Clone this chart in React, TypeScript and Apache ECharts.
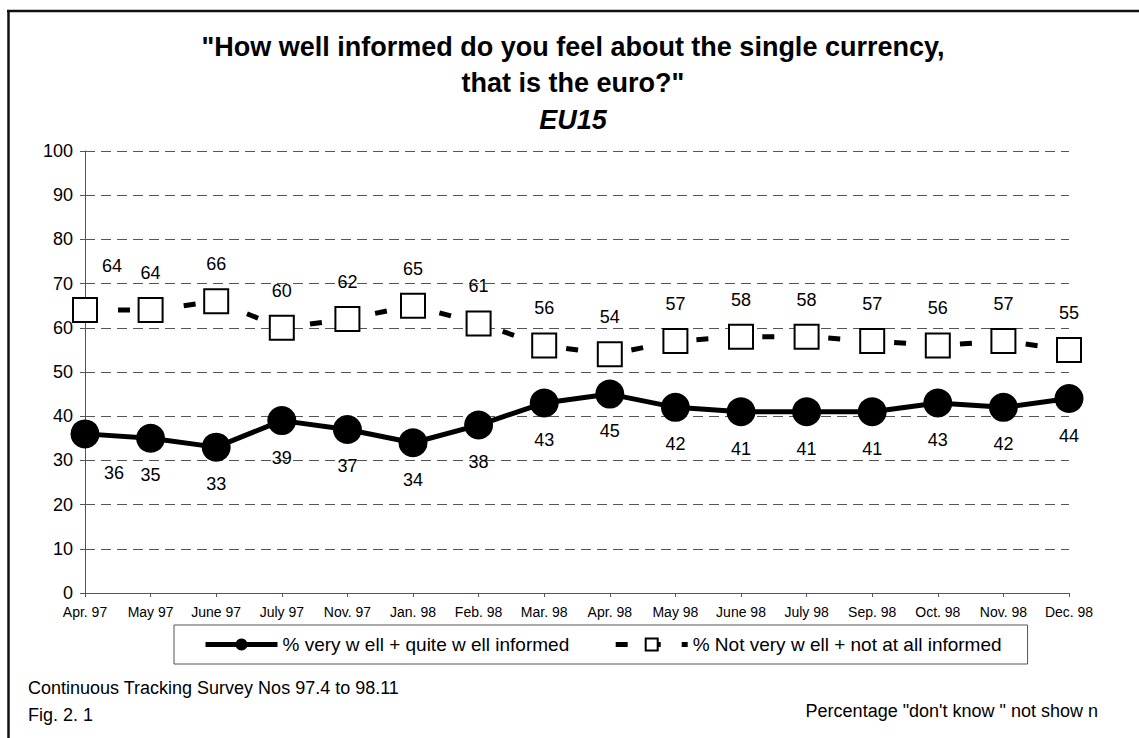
import React, { useEffect, useRef } from "react";
import * as echarts from "echarts";

const categories = [
  "Apr. 97", "May 97", "June 97", "July 97", "Nov. 97", "Jan. 98", "Feb. 98", "Mar. 98",
  "Apr. 98", "May 98", "June 98", "July 98", "Sep. 98", "Oct. 98", "Nov. 98", "Dec. 98",
];
const wellInformed = [36, 35, 33, 39, 37, 34, 38, 43, 45, 42, 41, 41, 41, 43, 42, 44];
const notInformed = [64, 64, 66, 60, 62, 65, 61, 56, 54, 57, 58, 58, 57, 56, 57, 55];
const seriesNames = [
  "% very w ell + quite w ell informed",
  "% Not very w ell + not at all informed",
];
const titleLines = [
  '"How well informed do you feel about the single currency,',
  'that is the euro?"',
  "EU15",
];
const footerLeft = ["Continuous Tracking Survey Nos 97.4 to 98.11", "Fig. 2. 1"];
const footerRight = 'Percentage "don\'t know " not show n';
const yMin = 0;
const yMax = 100;
const yInterval = 10;

const FONT = "'Liberation Sans', Arial, Helvetica, sans-serif";

export default function App() {
  const ref = useRef<HTMLDivElement>(null);

  useEffect(() => {
    if (!ref.current) return;
    const chart = echarts.init(ref.current, undefined, { renderer: "svg" });

    const d1 = wellInformed.map((v, i) =>
      i === 0 ? { value: v, label: { offset: [29, 39] } } : v
    );
    const d2 = notInformed.map((v, i) =>
      i === 0 ? { value: v, label: { offset: [27, -44] } } : v
    );

    const option: any = {
      animation: false,
      backgroundColor: "#fff",
      grid: { left: 85, right: 70, top: 151, bottom: 145, containLabel: false },
      xAxis: {
        type: "category",
        data: categories,
        boundaryGap: false,
        axisLine: { show: true, lineStyle: { color: "#555", width: 1 } },
        axisTick: { show: true, length: 4, lineStyle: { color: "#555" } },
        axisLabel: {
          color: "#000",
          fontSize: 14,
          fontFamily: FONT,
          margin: 12,
          interval: 0,
        },
        splitLine: { show: false },
      },
      yAxis: {
        type: "value",
        min: yMin,
        max: yMax,
        interval: yInterval,
        axisLine: { show: true, lineStyle: { color: "#555", width: 1 } },
        axisTick: { show: true, length: 5, lineStyle: { color: "#555" } },
        axisLabel: { color: "#000", fontSize: 18, fontFamily: FONT, margin: 12 },
        splitLine: {
          show: true,
          lineStyle: { color: "#555", width: 1, type: [10, 6] },
        },
      },
      legend: {
        left: 174,
        top: 625,
        orient: "horizontal",
        padding: [10, 26, 10, 29],
        itemGap: 44,
        itemWidth: 72,
        itemHeight: 15,
        borderColor: "#555",
        borderWidth: 1,
        backgroundColor: "#fff",
        lineStyle: { width: 5 },
        textStyle: { color: "#000", fontSize: 19, fontFamily: FONT, lineHeight: 19 },
        data: seriesNames,
      },
      series: [
        {
          name: seriesNames[0],
          type: "line",
          data: d1,
          symbol: "circle",
          symbolSize: 29,
          showAllSymbol: true,
          itemStyle: { color: "#000" },
          lineStyle: { color: "#000", width: 5 },
          label: {
            show: true,
            position: "inside",
            offset: [0, 37],
            color: "#000",
            fontSize: 18,
            fontFamily: FONT,
          },
          z: 3,
        },
        {
          name: seriesNames[1],
          type: "line",
          data: d2,
          symbol: "rect",
          symbolSize: 24,
          showAllSymbol: true,
          itemStyle: { color: "#fff", borderColor: "#000", borderWidth: 2 },
          lineStyle: { color: "#000", width: 5, type: [12, 21], cap: "butt" },
          label: {
            show: true,
            position: "inside",
            offset: [0, -37],
            color: "#000",
            fontSize: 18,
            fontFamily: FONT,
          },
          z: 4,
        },
      ],
      graphic: [
        {
          type: "line",
          shape: { x1: 7, y1: 11, x2: 1139, y2: 11 },
          style: { stroke: "#111", lineWidth: 2.5 },
          silent: true,
          z: 100,
        },
        {
          type: "line",
          shape: { x1: 8.5, y1: 10, x2: 8.5, y2: 738 },
          style: { stroke: "#111", lineWidth: 2.5 },
          silent: true,
          z: 100,
        },
        {
          type: "text",
          x: 573,
          y: 47,
          style: {
            text: titleLines[0],
            align: "center",
            verticalAlign: "middle",
            fill: "#000",
            font: `bold 27px ${FONT}`,
          },
        },
        {
          type: "text",
          x: 573,
          y: 83,
          style: {
            text: titleLines[1],
            align: "center",
            verticalAlign: "middle",
            fill: "#000",
            font: `bold 27px ${FONT}`,
          },
        },
        {
          type: "text",
          x: 573,
          y: 120,
          style: {
            text: titleLines[2],
            align: "center",
            verticalAlign: "middle",
            fill: "#000",
            font: `italic bold 27px ${FONT}`,
          },
        },
        {
          type: "text",
          x: 28,
          y: 688,
          style: {
            text: footerLeft[0],
            align: "left",
            verticalAlign: "middle",
            fill: "#000",
            font: `18px ${FONT}`,
          },
        },
        {
          type: "text",
          x: 28,
          y: 715,
          style: {
            text: footerLeft[1],
            align: "left",
            verticalAlign: "middle",
            fill: "#000",
            font: `18px ${FONT}`,
          },
        },
        {
          type: "text",
          x: 1098,
          y: 711,
          style: {
            text: footerRight,
            align: "right",
            verticalAlign: "middle",
            fill: "#000",
            font: `18px ${FONT}`,
          },
        },
      ],
    };

    chart.setOption(option);
    return () => chart.dispose();
  }, []);

  return (
    <div
      ref={ref}
      style={{ position: "fixed", left: 0, top: 0, width: 1139, height: 738 }}
    />
  );
}
